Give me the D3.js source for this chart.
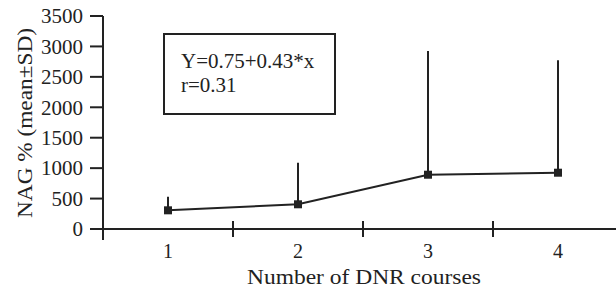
<!DOCTYPE html>
<html>
<head>
<meta charset="utf-8">
<script src="https://cdn.jsdelivr.net/npm/d3@7"></script>
<style>
  body { margin: 0; background: #fff; }
  text { font-family: "Liberation Serif", "DejaVu Serif", serif; fill: #222; }
</style>
</head>
<body>
<div id="chart"></div>
<script>
// data
var courses = ["1", "2", "3", "4"];
var meanNag = [307, 406, 892, 925];
var sdNag = [224, 683, 2033, 1847];
var yTicks = [0, 500, 1000, 1500, 2000, 2500, 3000, 3500];
var fitText = ["Y=0.75+0.43*x", "r=0.31"];

var width = 616, height = 291;
var ink = "#222";

var svg = d3.select("#chart")
    .append("svg")
    .attr("width", width)
    .attr("height", height);

var x = d3.scaleBand()
    .domain(courses)
    .range([103, 623]);

var y = d3.scaleLinear()
    .domain([0, 3500])
    .range([229, 16]);

// y axis
svg.append("line")
    .attr("x1", 103).attr("x2", 103)
    .attr("y1", y(3500)).attr("y2", 240)
    .attr("stroke", ink).attr("stroke-width", 2);

svg.selectAll(".ytick")
    .data(yTicks)
    .enter()
    .append("line")
    .attr("x1", 90).attr("x2", 103)
    .attr("y1", function(d) { return y(d); })
    .attr("y2", function(d) { return y(d); })
    .attr("stroke", ink).attr("stroke-width", 2);

svg.selectAll(".ylab")
    .data(yTicks)
    .enter()
    .append("text")
    .attr("x", 83)
    .attr("y", function(d) { return y(d); })
    .attr("dy", "0.35em")
    .attr("text-anchor", "end")
    .attr("font-size", "21px")
    .text(function(d) { return d; });

// x axis
svg.append("line")
    .attr("x1", 103).attr("x2", width)
    .attr("y1", y(0)).attr("y2", y(0))
    .attr("stroke", ink).attr("stroke-width", 2);

svg.selectAll(".xtick")
    .data(courses.slice(1))
    .enter()
    .append("line")
    .attr("x1", function(d) { return x(d); })
    .attr("x2", function(d) { return x(d); })
    .attr("y1", y(0) - 8).attr("y2", y(0) + 8)
    .attr("stroke", ink).attr("stroke-width", 2);

svg.selectAll(".xlab")
    .data(courses)
    .enter()
    .append("text")
    .attr("x", function(d) { return x(d) + x.bandwidth() / 2; })
    .attr("y", 258)
    .attr("text-anchor", "middle")
    .attr("font-size", "20px")
    .text(function(d) { return d; });

svg.append("text")
    .attr("x", 364)
    .attr("y", 284)
    .attr("text-anchor", "middle")
    .attr("font-size", "20px")
    .attr("textLength", 234)
    .attr("lengthAdjust", "spacingAndGlyphs")
    .text("Number of DNR courses");

svg.append("text")
    .attr("transform", "translate(32,123) rotate(-90)")
    .attr("text-anchor", "middle")
    .attr("font-size", "21px")
    .attr("textLength", 190)
    .attr("lengthAdjust", "spacingAndGlyphs")
    .text("NAG % (mean\u00B1SD)");

// error bars (upper only)
svg.selectAll(".err")
    .data(courses)
    .enter()
    .append("line")
    .attr("x1", function(d) { return x(d) + x.bandwidth() / 2; })
    .attr("x2", function(d) { return x(d) + x.bandwidth() / 2; })
    .attr("y1", function(d, i) { return y(meanNag[i]); })
    .attr("y2", function(d, i) { return y(meanNag[i] + sdNag[i]); })
    .attr("stroke", ink).attr("stroke-width", 2);

var line = d3.line()
    .x(function(d, i) { return x(courses[i]) + x.bandwidth() / 2; })
    .y(function(d) { return y(d); });

svg.append("path")
    .datum(meanNag)
    .attr("d", line)
    .attr("fill", "none")
    .attr("stroke", ink)
    .attr("stroke-width", 2);

svg.selectAll(".pt")
    .data(meanNag)
    .enter()
    .append("rect")
    .attr("x", function(d, i) { return x(courses[i]) + x.bandwidth() / 2 - 4; })
    .attr("y", function(d) { return y(d) - 4; })
    .attr("width", 8)
    .attr("height", 8)
    .attr("fill", ink);

// regression box
svg.append("rect")
    .attr("x", 164).attr("y", 34)
    .attr("width", 171).attr("height", 80)
    .attr("fill", "none")
    .attr("stroke", ink)
    .attr("stroke-width", 2);

svg.selectAll(".fit")
    .data(fitText)
    .enter()
    .append("text")
    .attr("x", 181)
    .attr("y", function(d, i) { return 68 + i * 24; })
    .attr("font-size", "21px")
    .text(function(d) { return d; });
</script>
</body>
</html>
